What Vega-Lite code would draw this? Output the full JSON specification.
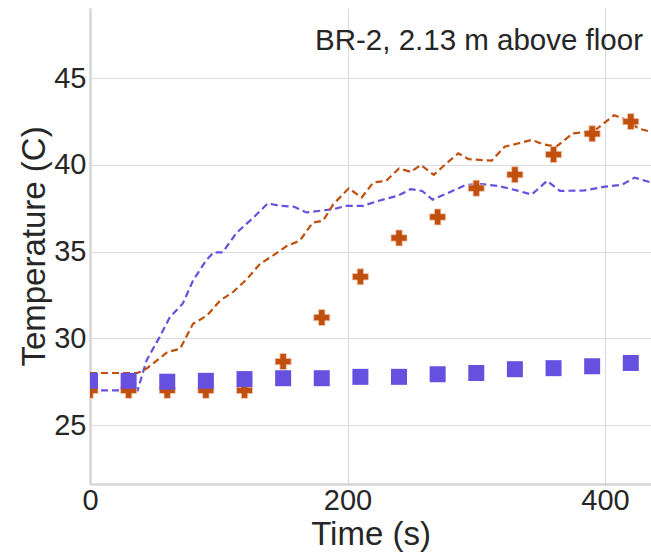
{
  "$schema": "https://vega.github.io/schema/vega-lite/v6.json",
  "autosize": "none",
  "width": 561,
  "height": 476,
  "padding": {"left": 90, "top": 8, "right": 0, "bottom": 68},
  "background": "white",
  "config": {
    "font": "Liberation Sans",
    "view": {"stroke": null},
    "axis": {
      "gridColor": "#dcdcdc",
      "gridWidth": 1.2,
      "domainColor": "#d6d6d6",
      "domainWidth": 2.5,
      "ticks": false,
      "labelFont": "Liberation Sans",
      "titleFont": "Liberation Sans",
      "labelColor": "#262626",
      "titleColor": "#262626",
      "labelFontSize": 29,
      "titleFontSize": 33,
      "titleFontWeight": "normal"
    }
  },
  "datasets": {
    "exp": [
      {"t": 0, "T": 27.0},
      {"t": 30, "T": 27.0},
      {"t": 60, "T": 27.0},
      {"t": 90, "T": 27.0},
      {"t": 120, "T": 27.0},
      {"t": 150, "T": 28.66},
      {"t": 180, "T": 31.2},
      {"t": 210, "T": 33.55},
      {"t": 240, "T": 35.79},
      {"t": 270, "T": 37.0},
      {"t": 300, "T": 38.66},
      {"t": 330, "T": 39.44},
      {"t": 360, "T": 40.6},
      {"t": 390, "T": 41.8},
      {"t": 420, "T": 42.5}
    ],
    "exp2": [
      {"t": 0, "T": 27.55},
      {"t": 30, "T": 27.55},
      {"t": 60, "T": 27.5},
      {"t": 90, "T": 27.55},
      {"t": 120, "T": 27.65},
      {"t": 150, "T": 27.7},
      {"t": 180, "T": 27.7},
      {"t": 210, "T": 27.78},
      {"t": 240, "T": 27.78},
      {"t": 270, "T": 27.93},
      {"t": 300, "T": 28.0},
      {"t": 330, "T": 28.22},
      {"t": 360, "T": 28.28},
      {"t": 390, "T": 28.39},
      {"t": 420, "T": 28.58}
    ],
    "modelBlue": [
      {"t": 0, "T": 27.0},
      {"t": 37, "T": 27.0},
      {"t": 44, "T": 28.74},
      {"t": 54, "T": 30.07},
      {"t": 62, "T": 31.22},
      {"t": 72, "T": 32.0},
      {"t": 80, "T": 33.33},
      {"t": 90, "T": 34.48},
      {"t": 96, "T": 34.96},
      {"t": 103, "T": 34.96},
      {"t": 114, "T": 36.1},
      {"t": 127, "T": 36.97},
      {"t": 138, "T": 37.78},
      {"t": 148, "T": 37.64},
      {"t": 158, "T": 37.6},
      {"t": 168, "T": 37.26},
      {"t": 179, "T": 37.36},
      {"t": 189, "T": 37.45},
      {"t": 199, "T": 37.64},
      {"t": 212, "T": 37.64},
      {"t": 225, "T": 37.95},
      {"t": 239, "T": 38.22},
      {"t": 249, "T": 38.6},
      {"t": 258, "T": 38.5},
      {"t": 266, "T": 38.0},
      {"t": 278, "T": 38.38},
      {"t": 292, "T": 38.85},
      {"t": 304, "T": 38.89},
      {"t": 317, "T": 38.79},
      {"t": 333, "T": 38.5},
      {"t": 343, "T": 38.29},
      {"t": 355, "T": 39.08},
      {"t": 365, "T": 38.5},
      {"t": 384, "T": 38.53},
      {"t": 400, "T": 38.75},
      {"t": 413, "T": 38.85},
      {"t": 423, "T": 39.27},
      {"t": 436, "T": 38.98}
    ],
    "modelOrange": [
      {"t": 0, "T": 28.0},
      {"t": 37, "T": 28.0},
      {"t": 44, "T": 28.26},
      {"t": 60, "T": 29.2},
      {"t": 70, "T": 29.4},
      {"t": 80, "T": 30.84},
      {"t": 91, "T": 31.32},
      {"t": 101, "T": 32.18},
      {"t": 111, "T": 32.66},
      {"t": 122, "T": 33.43},
      {"t": 132, "T": 34.29},
      {"t": 142, "T": 34.77},
      {"t": 153, "T": 35.34},
      {"t": 163, "T": 35.63},
      {"t": 173, "T": 36.68},
      {"t": 181, "T": 36.78},
      {"t": 189, "T": 37.74},
      {"t": 201, "T": 38.65},
      {"t": 211, "T": 38.12},
      {"t": 220, "T": 38.99},
      {"t": 230, "T": 39.08},
      {"t": 240, "T": 39.8},
      {"t": 249, "T": 39.6},
      {"t": 257, "T": 40.0},
      {"t": 267, "T": 39.43},
      {"t": 277, "T": 40.1},
      {"t": 286, "T": 40.67},
      {"t": 294, "T": 40.33},
      {"t": 312, "T": 40.25},
      {"t": 322, "T": 41.05},
      {"t": 333, "T": 41.25},
      {"t": 343, "T": 41.44},
      {"t": 352, "T": 41.19},
      {"t": 362, "T": 41.05},
      {"t": 375, "T": 41.82},
      {"t": 385, "T": 41.9},
      {"t": 394, "T": 42.1},
      {"t": 407, "T": 42.87},
      {"t": 417, "T": 42.59},
      {"t": 426, "T": 42.1},
      {"t": 436, "T": 41.9}
    ],
    "label": [{"t": 429.5, "T": 46.6, "text": "BR-2, 2.13 m above floor"}]
  },
  "encoding": {
    "x": {
      "field": "t", "type": "quantitative",
      "scale": {"domain": [0, 435.7], "nice": false, "zero": false},
      "axis": {"values": [0, 200, 400], "title": "Time (s)", "labelPadding": 2, "titlePadding": 3, "labelFlush": false}
    },
    "y": {
      "field": "T", "type": "quantitative",
      "scale": {"domain": [21.6, 49.05], "nice": false, "zero": false},
      "axis": {"values": [25, 30, 35, 40, 45], "title": "Temperature (C)", "labelPadding": 4, "titlePadding": 2}
    }
  },
  "layer": [
    {
      "data": {"name": "modelBlue"},
      "mark": {"type": "line", "color": "#6650e0", "strokeWidth": 2.2, "strokeDash": [7, 4], "clip": true}
    },
    {
      "data": {"name": "modelOrange"},
      "mark": {"type": "line", "color": "#c1500e", "strokeWidth": 2.2, "strokeDash": [7, 4], "clip": true}
    },
    {
      "data": {"name": "exp"},
      "mark": {"type": "point", "shape": "cross", "filled": true, "size": 256, "color": "#c1500e", "opacity": 1, "stroke": "#f0c8b0", "strokeWidth": 0.8, "clip": true}
    },
    {
      "data": {"name": "exp2"},
      "mark": {"type": "square", "size": 256, "color": "#6650e0", "opacity": 1, "clip": true}
    },
    {
      "data": {"name": "label"},
      "mark": {"type": "text", "align": "right", "baseline": "alphabetic", "fontSize": 29.5, "font": "Liberation Sans", "color": "#262626"},
      "encoding": {"text": {"field": "text"}}
    }
  ]
}
